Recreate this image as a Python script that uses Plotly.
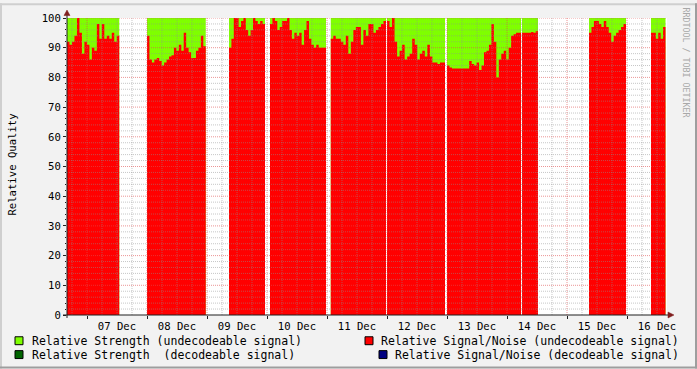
import plotly.graph_objects as go
import pandas as pd

# ---------------- data ----------------
range_start = "2010-12-06 16:00"
range_end = "2010-12-16 16:00"

seg_start = ["2010-12-06 16:00", "2010-12-08 00:00", "2010-12-09 08:48", "2010-12-10 01:12",
             "2010-12-11 01:30", "2010-12-12 00:00", "2010-12-13 00:00", "2010-12-14 06:00",
             "2010-12-15 08:48", "2010-12-16 09:36"]
seg_end = ["2010-12-07 12:54", "2010-12-08 23:30", "2010-12-09 23:12", "2010-12-10 23:36",
           "2010-12-11 23:36", "2010-12-12 23:12", "2010-12-14 05:36", "2010-12-14 12:24",
           "2010-12-15 23:36", "2010-12-16 15:24"]

# Relative Signal/Noise (undecodeable signal), one list per data segment
snr_seg1 = [92, 91, 92, 94, 100, 95, 88, 92, 91, 86, 90, 89, 98, 93, 98, 93, 94, 93, 95, 92, 94]
snr_seg2 = [94, 86, 85, 86, 86.5, 85.5, 84, 85, 86, 87, 87.5, 90, 89, 91, 89, 95, 90, 88.5,
            86.5, 86.5, 89, 90, 94, 90.5]
snr_seg3 = [90, 93, 100, 100, 97, 99, 100, 96, 94, 96, 100, 99, 98, 99, 98]
snr_seg4 = [98, 100, 99, 96, 97, 99, 99, 100, 96, 93, 95, 94, 95, 91, 96, 99, 93, 91, 90, 91,
            90, 90, 90]
snr_seg5 = [93, 94, 93, 93, 92, 91, 94, 88, 92, 96, 97, 97, 91, 96, 94, 98, 98, 95, 96, 97, 98, 99]
snr_seg6 = [99, 97, 100, 92, 87, 89, 91, 86, 87, 88, 93, 91, 86, 88, 89, 87, 91, 87, 85, 85,
            84.5, 85, 85]
snr_seg7 = [84, 83.3, 83, 83, 83, 83, 83, 83, 83, 85.5, 84.5, 84, 85, 82.5, 84, 88.5, 89, 91,
            98, 92, 80, 86, 88, 89, 86, 90, 94, 94.5, 95, 95]
snr_seg8 = [95, 95, 95, 95, 95.3, 95, 95.5]
snr_seg9 = [95, 97, 99, 99, 98, 97, 99, 97, 95, 92, 94, 95, 96, 97, 98]
snr_seg10 = [95, 95, 93, 95, 93, 97]
snr_segments = [snr_seg1, snr_seg2, snr_seg3, snr_seg4, snr_seg5, snr_seg6, snr_seg7,
                snr_seg8, snr_seg9, snr_seg10]

# Relative Strength (undecodeable signal): top of each segment
strength_top = [100, 100, 100, 100, 100, 100, 100, 100, 100, 100]

x_tick_vals = ["2010-12-07 12:00", "2010-12-08 12:00", "2010-12-09 12:00", "2010-12-10 12:00",
               "2010-12-11 12:00", "2010-12-12 12:00", "2010-12-13 12:00", "2010-12-14 12:00",
               "2010-12-15 12:00", "2010-12-16 12:00"]
x_tick_text = ["07 Dec", "08 Dec", "09 Dec", "10 Dec", "11 Dec", "12 Dec", "13 Dec", "14 Dec",
               "15 Dec", "16 Dec"]
y_tick_vals = [0, 10, 20, 30, 40, 50, 60, 70, 80, 90, 100]

legend_labels = ["Relative Strength (undecodeable signal)",
                 "Relative Strength\u00a0 (decodeable signal)",
                 "Relative Signal/Noise (undecodeable signal)",
                 "Relative Signal/Noise (decodeable signal)"]
legend_colors = ["#7FFF00", "#006400", "#FF0000", "#000080"]

# ---------------- helpers ----------------
W, H = 697, 369
L, R, T, B = 67, 667, 15, 315
FONT = "DejaVu Sans Mono"


def px2x(px):
    return (px - L) / (R - L)


def py2y(py):
    return (B - py) / (B - T)


def seg_xy(vals, s, e):
    s = pd.Timestamp(s)
    e = pd.Timestamp(e)
    step = (e - s) / len(vals)
    xs = [s + i * step for i in range(len(vals))] + [e]
    ys = list(vals) + [vals[-1]]
    return xs, ys


fig = go.Figure()
for top, s, e in zip(strength_top, seg_start, seg_end):
    xs, ys = seg_xy([top], s, e)
    fig.add_trace(go.Scatter(x=xs, y=ys, mode="lines",
                             line=dict(width=0, color="#7FFF00", shape="hv"),
                             fill="tozeroy", fillcolor="#7FFF00", showlegend=False,
                             hoverinfo="skip"))
for vals, s, e in zip(snr_segments, seg_start, seg_end):
    xs, ys = seg_xy(vals, s, e)
    fig.add_trace(go.Scatter(x=xs, y=ys, mode="lines",
                             line=dict(width=0, color="#FF0000", shape="hv"),
                             fill="tozeroy", fillcolor="#FF0000", showlegend=False,
                             hoverinfo="skip"))

shapes = []
minor_grid = "rgba(143,143,143,0.5)"
major_grid = "rgba(222,79,79,0.6)"

# vertical grid lines (above data, like rrdtool)
t1 = pd.Timestamp(range_end)
t = pd.Timestamp("2010-12-06 18:00")
while t < t1:
    is_major = (t.hour == 0)
    shapes.append(dict(type="line", xref="x", yref="paper", x0=t, x1=t, y0=0, y1=1,
                       line=dict(color=major_grid if is_major else minor_grid, width=1,
                                 dash="1px,1px"), layer="above"))
    t += pd.Timedelta(hours=6)

# horizontal grid lines
for v in range(2, 101, 2):
    is_major = (v % 10 == 0)
    shapes.append(dict(type="line", xref="paper", yref="y", x0=0, x1=1, y0=v, y1=v,
                       line=dict(color=major_grid if is_major else minor_grid, width=1,
                                 dash="1px,1px"), layer="above"))

# axes lines
axis_col = "#1F1F1F"
shapes.append(dict(type="line", xref="paper", yref="paper", x0=px2x(63), x1=px2x(669),
                   y0=0, y1=0, line=dict(color=axis_col, width=1), layer="above"))
shapes.append(dict(type="line", xref="paper", yref="paper", x0=0, x1=0,
                   y0=py2y(318), y1=py2y(11), line=dict(color=axis_col, width=1), layer="above"))


def tri(points):
    p = " L ".join(f"{px2x(a):.5f},{py2y(b):.5f}" for a, b in points)
    return "M " + p + " Z"


arrow_col = "#801F1F"
shapes.append(dict(type="path", xref="paper", yref="paper",
                   path=tri([(64, 12.5), (67, 7), (70, 12.5)]),
                   fillcolor=arrow_col, line=dict(color=arrow_col, width=0.5), layer="above"))
shapes.append(dict(type="path", xref="paper", yref="paper",
                   path=tri([(668, 312), (674, 315), (668, 318)]),
                   fillcolor=arrow_col, line=dict(color=arrow_col, width=0.5), layer="above"))

# frame shading around the image
shapes.append(dict(type="rect", xref="paper", yref="paper", x0=px2x(0), x1=px2x(W),
                   y0=py2y(0), y1=py2y(2), fillcolor="#CFCFCF", line=dict(width=0)))
shapes.append(dict(type="rect", xref="paper", yref="paper", x0=px2x(0), x1=px2x(2),
                   y0=py2y(0), y1=py2y(H), fillcolor="#CFCFCF", line=dict(width=0)))
shapes.append(dict(type="rect", xref="paper", yref="paper", x0=px2x(0), x1=px2x(W),
                   y0=py2y(H - 2), y1=py2y(H), fillcolor="#9E9E9E", line=dict(width=0)))
shapes.append(dict(type="rect", xref="paper", yref="paper", x0=px2x(W - 2), x1=px2x(W),
                   y0=py2y(0), y1=py2y(H), fillcolor="#9E9E9E", line=dict(width=0)))

# legend squares and labels
legend_pos = [(15, 341, "left", 30), (15, 355, "left", 30),
              (365, 341, "right", 681), (379, 355, "right", 681)]
annotations = []
for lab, col, (sx, cy, anchor, tx) in zip(legend_labels, legend_colors, legend_pos):
    shapes.append(dict(type="rect", xref="paper", yref="paper",
                       x0=px2x(sx), x1=px2x(sx + 8), y0=py2y(cy - 4), y1=py2y(cy + 4),
                       fillcolor=col, line=dict(color="#000000", width=1)))
    annotations.append(dict(text=lab, xref="paper", yref="paper", x=px2x(tx), y=py2y(cy),
                            xanchor=anchor, yanchor="middle", showarrow=False,
                            font=dict(family=FONT, size=11.5, color="#000000")))

annotations.append(dict(text="Relative Quality", xref="paper", yref="paper",
                        x=px2x(12), y=py2y(163), textangle=-90, showarrow=False,
                        xanchor="center", yanchor="middle",
                        font=dict(family=FONT, size=10.6, color="#000000")))
annotations.append(dict(text="RRDTOOL / TOBI OETIKER", xref="paper", yref="paper",
                        x=px2x(686), y=py2y(60), textangle=90, showarrow=False,
                        xanchor="center", yanchor="middle",
                        font=dict(family=FONT, size=8.3, color="#A8A8A8")))

fig.update_layout(
    width=W, height=H,
    margin=dict(l=L, r=W - R, t=T, b=H - B, pad=0),
    paper_bgcolor="#F2F2F2",
    plot_bgcolor="#FFFFFF",
    showlegend=False,
    shapes=shapes,
    annotations=annotations,
    xaxis=dict(type="date", range=[range_start, range_end], tickvals=x_tick_vals,
               ticktext=x_tick_text, ticks="", showgrid=False, zeroline=False, showline=False,
               ticklabelstandoff=3,
               tickfont=dict(family=FONT, size=10.6, color="#000000"),
               minor=dict(tick0="2010-12-07 00:00", dtick=86400000, ticks="outside",
                          ticklen=3, tickcolor=axis_col, showgrid=False)),
    yaxis=dict(range=[0, 100], tickvals=y_tick_vals, ticks="outside", ticklen=3,
               tickcolor=axis_col, showgrid=False, zeroline=False, showline=False,
               tickfont=dict(family=FONT, size=10.6, color="#000000"),
               minor=dict(dtick=2, ticks="outside", ticklen=1, tickcolor=axis_col,
                          showgrid=False)),
)

fig.write_html("out.html")
